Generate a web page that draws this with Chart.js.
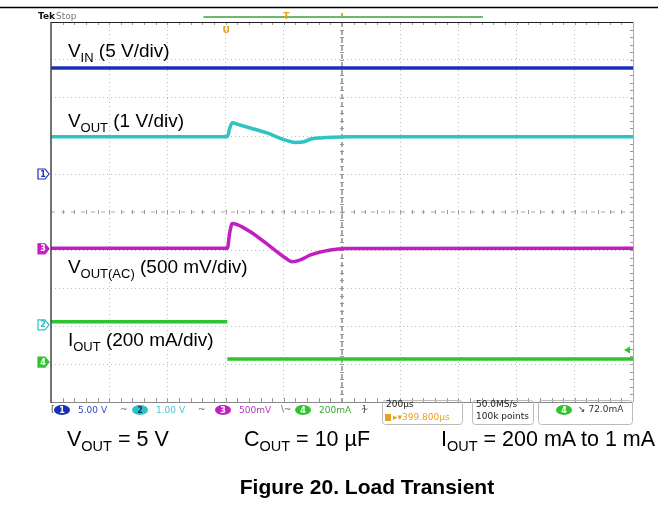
<!DOCTYPE html>
<html>
<head>
<meta charset="utf-8">
<script src="https://cdn.jsdelivr.net/npm/chart.js@4.4.1/dist/chart.umd.min.js"></script>
<style>
  html, body { margin: 0; padding: 0; background: #fff; }
  #wrap { position: relative; width: 658px; height: 508px; overflow: hidden; font-family: "Liberation Sans", Arial, sans-serif; }
  #scope { position: absolute; left: 0; top: 0; }
  .cap { position: absolute; font-size: 21.5px; line-height: 24px; color: #000; white-space: nowrap; }
  .cap sub { font-size: 14.5px; vertical-align: -5px; line-height: 0; }
  .title { position: absolute; left: 0; width: 734px; text-align: center; font-size: 21px; line-height: 24px; font-weight: bold; white-space: nowrap; }
</style>
</head>
<body>
<div id="wrap">
  <canvas id="scope" width="658" height="508"></canvas>
  <div class="cap" style="left:67px; top:427px">V<sub>OUT</sub> = 5 V</div>
  <div class="cap" style="left:244px; top:427px">C<sub>OUT</sub> = 10 µF</div>
  <div class="cap" style="left:441px; top:427px">I<sub>OUT</sub> = 200 mA to 1 mA</div>
  <div class="title" style="top:475px">Figure 20. Load Transient</div>
</div>
<script>
// time in µs (200 µs/div, 10 div), trace position in screen divisions (-5..5)
const vinTime  = [0, 2000]
const vinDiv   = [3.79, 3.79]

const voutTime = [0, 606, 614, 623, 645, 685, 742, 806, 840, 870, 892, 926, 970, 1020, 2000]
const voutDiv  = [1.98, 1.98, 2.2, 2.35, 2.3, 2.21, 2.08, 1.89, 1.83, 1.85, 1.92, 1.95, 1.97, 1.98, 1.98]

const acTime   = [0, 606, 614, 623, 640, 685, 754, 806, 829, 860, 892, 960, 1012, 2000]
const acDiv    = [-0.955, -0.955, -0.55, -0.3, -0.33, -0.52, -0.91, -1.21, -1.31, -1.25, -1.13, -1.0, -0.96, -0.955]

const ioutTime = [0, 606, 606, 606, 2000]
const ioutDiv  = [-2.89, -2.89, null, -3.87, -3.87]

const channelColors = ['#1a2fb8', '#2ec4c4', '#c21fc2', '#2fc42f']
const channelScales = ['5.00 V', '1.00 V', '500mV', '200mA']

const toPts = (t, v) => t.map((x, i) => ({ x, y: v[i] }))

function subText(ctx, parts, x, y, size, subSize) {
  let cx = x
  parts.forEach(([s, sub]) => {
    ctx.font = `${sub ? subSize : size}px "Liberation Sans", Arial, sans-serif`
    ctx.fillText(s, cx, sub ? y + 5 : y)
    cx += ctx.measureText(s).width
  })
}

const scopeDeco = {
  id: 'scopeDeco',
  beforeDatasetsDraw(chart) {
    const { ctx, chartArea: a, scales: { x, y } } = chart
    const cx = x.getPixelForValue(1000)
    const cy = y.getPixelForValue(0)
    ctx.save()
    ctx.lineWidth = 1
    // center crosshair
    ctx.strokeStyle = '#555'
    ctx.setLineDash([5, 3])
    ctx.beginPath(); ctx.moveTo(cx, a.top); ctx.lineTo(cx, a.bottom); ctx.stroke()
    ctx.strokeStyle = '#a8a8a8'
    ctx.setLineDash([4, 6])
    ctx.beginPath(); ctx.moveTo(a.left, cy); ctx.lineTo(a.right, cy); ctx.stroke()
    ctx.setLineDash([])
    // minor ticks
    ctx.strokeStyle = '#999'
    ctx.beginPath()
    for (let t = 40; t < 2000; t += 40) {
      const px = Math.round(x.getPixelForValue(t)) + 0.5
      ctx.moveTo(px, cy - 2); ctx.lineTo(px, cy + 2)
      ctx.moveTo(px, a.bottom); ctx.lineTo(px, a.bottom - 4)
      ctx.moveTo(px, a.top); ctx.lineTo(px, a.top + 3)
    }
    for (let v = -4.8; v < 5; v += 0.2) {
      const py = Math.round(y.getPixelForValue(v)) + 0.5
      ctx.moveTo(cx - 2, py); ctx.lineTo(cx + 2, py)
      ctx.moveTo(a.right, py); ctx.lineTo(a.right - 3, py)
    }
    ctx.stroke()
    ctx.restore()
  },
  afterDraw(chart) {
    const { ctx, chartArea: a, scales: { x, y } } = chart
    ctx.save()
    // frame
    ctx.lineWidth = 1
    ctx.strokeStyle = '#aaa'
    ctx.beginPath(); ctx.moveTo(a.right + 0.5, a.top); ctx.lineTo(a.right + 0.5, a.bottom); ctx.stroke()
    ctx.strokeStyle = '#888'
    ctx.beginPath(); ctx.moveTo(a.left, a.bottom + 0.5); ctx.lineTo(a.right, a.bottom + 0.5); ctx.stroke()
    ctx.strokeStyle = '#222'
    ctx.beginPath(); ctx.moveTo(a.left, a.top + 0.5); ctx.lineTo(a.right, a.top + 0.5); ctx.stroke()
    ctx.strokeStyle = '#444'; ctx.lineWidth = 1.5
    ctx.beginPath(); ctx.moveTo(a.left, a.top); ctx.lineTo(a.left, a.bottom + 1); ctx.stroke()

    // page rule
    ctx.strokeStyle = '#000'; ctx.lineWidth = 1.5
    ctx.beginPath(); ctx.moveTo(0, 7.5); ctx.lineTo(658, 7.5); ctx.stroke()

    // record bar on top
    ctx.strokeStyle = '#6cb86c'; ctx.lineWidth = 2
    ctx.beginPath(); ctx.moveTo(x.getPixelForValue(524), 17); ctx.lineTo(x.getPixelForValue(1484), 17); ctx.stroke()
    ctx.fillStyle = '#e8a020'
    ctx.font = 'bold 9px "DejaVu Sans", sans-serif'
    ctx.textBaseline = 'middle'; ctx.textAlign = 'center'
    ctx.fillText('T', x.getPixelForValue(809), 17)
    ctx.fillText('U', x.getPixelForValue(602), 31)
    ctx.fillRect(x.getPixelForValue(1000) - 1, 13, 2, 3)
    ctx.textAlign = 'left'
    ctx.fillStyle = '#111'; ctx.font = 'bold 9px "DejaVu Sans", sans-serif'
    ctx.fillText('Tek', 38, 17)
    ctx.fillStyle = '#777'; ctx.font = '9px "DejaVu Sans", sans-serif'
    ctx.fillText('Stop', 56, 17)

    // channel labels
    ctx.fillStyle = '#000'; ctx.textBaseline = 'alphabetic'
    const lx = x.getPixelForValue(58)
    subText(ctx, [['V', 0], ['IN', 1], [' (5 V/div)', 0]], lx, y.getPixelForValue(4.08), 19, 13)
    subText(ctx, [['V', 0], ['OUT', 1], [' (1 V/div)', 0]], lx, y.getPixelForValue(2.24), 19, 13)
    subText(ctx, [['V', 0], ['OUT(AC)', 1], [' (500 mV/div)', 0]], lx, y.getPixelForValue(-1.61), 19, 13)
    subText(ctx, [['I', 0], ['OUT', 1], [' (200 mA/div)', 0]], lx, y.getPixelForValue(-3.53), 19, 13)

    // ground markers at left
    const markers = [[0, 1.0, '1'], [2, -0.97, '3'], [1, -2.97, '2'], [3, -3.95, '4']]
    ctx.font = 'bold 8px "DejaVu Sans", sans-serif'
    ctx.textAlign = 'center'; ctx.textBaseline = 'middle'
    markers.forEach(([c, v, n]) => {
      const py = y.getPixelForValue(v)
      const col = channelColors[c]
      ctx.strokeStyle = col; ctx.lineWidth = 1.2
      ctx.fillStyle = c >= 2 ? col : '#fff'
      ctx.beginPath()
      ctx.moveTo(38, py - 5); ctx.lineTo(45, py - 5); ctx.lineTo(49, py); ctx.lineTo(45, py + 5); ctx.lineTo(38, py + 5); ctx.closePath()
      ctx.fill(); ctx.stroke()
      ctx.fillStyle = c >= 2 ? '#fff' : col
      ctx.fillText(n, 43, py + 0.5)
    })

    // trigger level arrow on right
    ctx.fillStyle = channelColors[3]
    const ty = y.getPixelForValue(-3.63)
    ctx.beginPath(); ctx.moveTo(a.right - 9, ty); ctx.lineTo(a.right - 3, ty - 3.5); ctx.lineTo(a.right - 3, ty + 3.5); ctx.closePath(); ctx.fill()

    // status bar
    const sy = 410
    const textCols = ['#3347c4', '#44c8d0', '#b03ab8', '#38a838']
    const ovalX = [62, 140, 223, 303]
    ctx.font = '9px "DejaVu Sans", sans-serif'
    ovalX.forEach((ox, i) => {
      ctx.fillStyle = channelColors[i]
      ctx.beginPath(); ctx.ellipse(ox, sy, 8, 5, 0, 0, Math.PI * 2); ctx.fill()
      ctx.fillStyle = i === 1 ? '#136' : '#fff'
      ctx.textAlign = 'center'
      ctx.font = 'bold 8px "DejaVu Sans", sans-serif'
      ctx.fillText(String(i + 1), ox, sy + 0.5)
      ctx.font = '9px "DejaVu Sans", sans-serif'
      ctx.textAlign = 'left'
      ctx.fillStyle = textCols[i]
      ctx.fillText(channelScales[i], ox + 16, sy + 0.5)
      ctx.fillStyle = '#667'
      ctx.fillText(i === 2 ? '\\~' : '~', ox + 58, sy)
    })
    ctx.fillStyle = '#333'; ctx.fillText(']', 362, sy)
    ctx.fillStyle = '#444'; ctx.fillText('[', 51, sy)

    // boxes
    const box = (bx, bw) => {
      ctx.strokeStyle = '#bbb'; ctx.lineWidth = 1
      ctx.beginPath(); ctx.roundRect(bx + 0.5, 400.5, bw, 24, 3); ctx.stroke()
    }
    box(382, 80); box(472, 61); box(538, 94)
    ctx.fillStyle = '#222'
    ctx.fillText('200µs', 386, 405)
    ctx.fillText('50.0MS/s', 476, 405)
    ctx.fillText('100k points', 476, 417)
    ctx.fillStyle = '#e8a020'
    ctx.fillRect(385, 414, 6, 7)
    ctx.fillText('\u25B8\u25BE399.800µs', 393, 418)
    ctx.fillStyle = channelColors[3]
    ctx.beginPath(); ctx.ellipse(564, sy, 8, 5, 0, 0, Math.PI * 2); ctx.fill()
    ctx.fillStyle = '#fff'; ctx.textAlign = 'center'
    ctx.font = 'bold 8px "DejaVu Sans", sans-serif'
    ctx.fillText('4', 564, sy + 0.5)
    ctx.font = '9px "DejaVu Sans", sans-serif'
    ctx.textAlign = 'left'; ctx.fillStyle = '#333'
    ctx.fillText('\u2198 72.0mA', 578, sy)
    ctx.restore()
  }
}

const gridColor = edge => c => {
  const v = c.tick ? c.tick.value : null
  return edge.includes(v) ? 'rgba(0,0,0,0)' : '#bebebe'
}

new Chart(document.getElementById('scope'), {
  type: 'line',
  data: {
    datasets: [
      { data: toPts(vinTime, vinDiv), borderColor: channelColors[0], borderWidth: 3.5 },
      { data: toPts(voutTime, voutDiv), borderColor: channelColors[1], borderWidth: 3.5, cubicInterpolationMode: 'monotone' },
      { data: toPts(acTime, acDiv), borderColor: channelColors[2], borderWidth: 3.5, cubicInterpolationMode: 'monotone' },
      { data: toPts(ioutTime, ioutDiv), borderColor: channelColors[3], borderWidth: 3.5, spanGaps: false }
    ]
  },
  options: {
    responsive: false,
    animation: false,
    devicePixelRatio: 1,
    layout: { padding: { left: 51, top: 22, right: 25, bottom: 106 } },
    elements: { point: { radius: 0 }, line: { tension: 0 } },
    plugins: { legend: { display: false }, tooltip: { enabled: false } },
    scales: {
      x: {
        type: 'linear', min: 0, max: 2000,
        ticks: { display: false, stepSize: 200 },
        grid: { drawTicks: false, color: gridColor([0, 1000, 2000]) },
        border: { display: false, dash: [1, 3] }
      },
      y: {
        type: 'linear', min: -5, max: 5,
        ticks: { display: false, stepSize: 1 },
        grid: { drawTicks: false, color: gridColor([-5, 0, 5]) },
        border: { display: false, dash: [1, 3] }
      }
    }
  },
  plugins: [scopeDeco]
})
</script>
</body>
</html>
